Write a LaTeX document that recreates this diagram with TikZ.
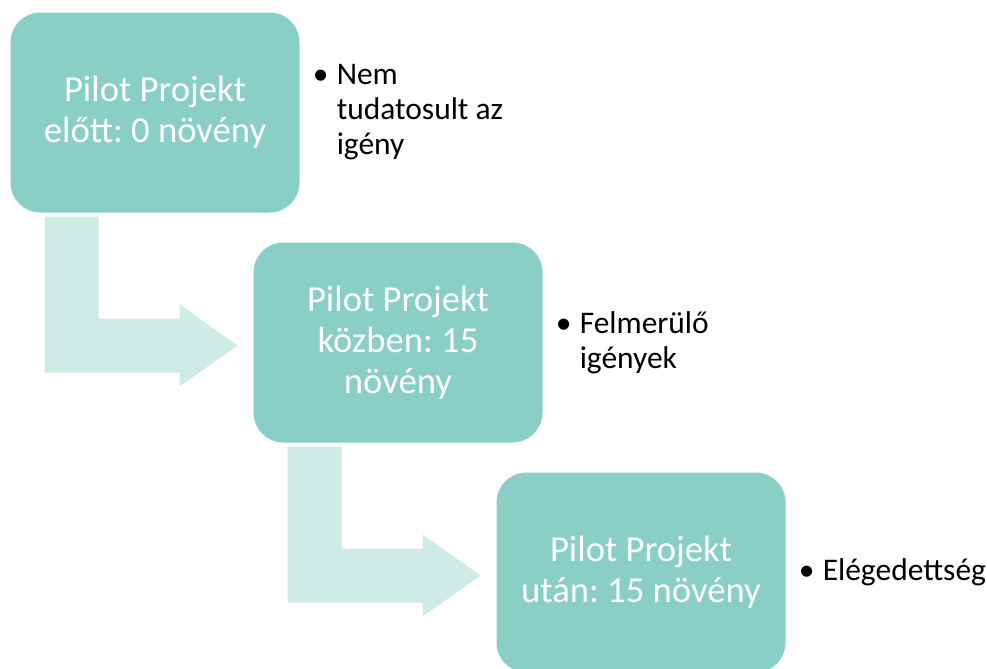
\documentclass[tikz,border=0pt]{standalone}
\usepackage{fontspec}
\setmainfont{Carlito}
\frenchspacing
\definecolor{stepfill}{RGB}{138,207,198}
\definecolor{flowfill}{RGB}{208,234,229}
\tikzset{
  stagebox/.style={rectangle, rounded corners=22.5pt, fill=stepfill, draw=white, line width=0.75pt,
    minimum width=217.5pt, minimum height=150.75pt, inner sep=0pt, align=center, text=white,
    font=\fontsize{27.5pt}{30.75pt}\selectfont},
  note/.style={anchor=west, inner sep=0pt, align=left, text=black,
    font=\fontsize{23.6pt}{26.25pt}\selectfont},
  bent/.pic={
    \fill[flowfill] (35,3) -- (89,3) -- (89,105) -- (170,105) -- (170,91) -- (228,132)
      -- (170,173) -- (170,159) -- (35,159) -- cycle;
  }
}
\newcommand{\bul}{\makebox[17pt][l]{\hspace*{-1pt}\textbullet}}
\newcommand{\ind}{\hspace*{17pt}}
\begin{document}
\begin{tikzpicture}[x=0.75pt,y=-0.75pt]
  \useasboundingbox (0,0) rectangle (987,668);
  % three stages, each shifted down and right
  \node[stagebox] (b1) at (155,112.5) {Pilot Projekt\\előtt: 0 növény};
  \node[stagebox] (b2) at (398,342.5) {Pilot Projekt\\közben: 15\\növény};
  \node[stagebox] (b3) at (641,572.5) {Pilot Projekt\\után: 15 növény};
  % bent arrows leading from one stage to the next
  \path (b1.south west) pic {bent};
  \path (b2.south west) pic {bent};
  % bullet notes beside each stage
  \node[note] (n1) at ([xshift=10pt]b1.east) {\bul Nem\\\ind tudatosult az\\\ind igény};
  \node[note] (n2) at ([xshift=10pt]b2.east) {\bul Felmerülő\\\ind igények};
  \node[note] (n3) at ([xshift=10pt]b3.east) {\bul Elégedettség};
\end{tikzpicture}
\end{document}
